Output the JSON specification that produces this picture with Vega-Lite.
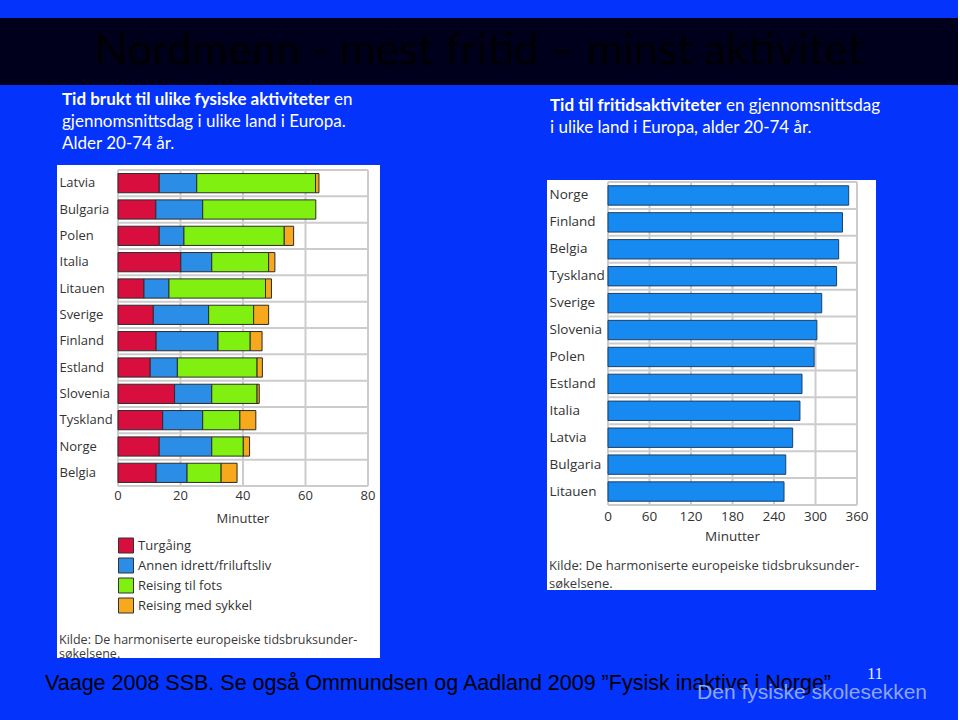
{
  "$schema": "https://vega.github.io/schema/vega-lite/v6.json",
  "background": "#0433fb",
  "padding": {"top": 18, "left": 0, "right": 0, "bottom": 0},
  "spacing": 0,
  "config": {
    "view": {"stroke": null},
    "font": "Open Sans",
    "axis": {"labelFont": "Open Sans", "titleFont": "Open Sans", "labelColor": "#333333", "titleColor": "#333333", "titleFontWeight": "normal"},
    "legend": {"labelFont": "Open Sans"}
  },
  "vconcat": [
    {
      "width": 958,
      "height": 67,
      "view": {"fill": "#00001c", "stroke": null},
      "data": {"values": [{"t": "Nordmenn - mest fritid – minst aktivitet"}]},
      "mark": {"type": "text", "font": "Lato", "fontSize": 44, "color": "#000004"},
      "encoding": {"text": {"field": "t"}}
    },
    {
      "spacing": 0,
      "hconcat": [
        {"width": 57, "height": 10, "data": {"values": []}, "mark": "point", "encoding": {}},
        {
          "spacing": 167,
          "hconcat": [
            {
              "spacing": 0,
              "vconcat": [
                {
                  "width": 323,
                  "height": 80,
                  "layer": [
                    {
                      "data": {"values": [{"t": "Tid brukt til ulike fysiske aktiviteter"}]},
                      "mark": {"type": "text", "font": "Lato", "fontSize": 17, "fontWeight": "bold", "color": "white", "align": "left", "dx": -156.5, "dy": -25},
                      "encoding": {"text": {"field": "t"}}
                    },
                    {
                      "data": {"values": [{"t": "en"}]},
                      "mark": {"type": "text", "font": "Lato", "fontSize": 17, "color": "white", "align": "left", "dx": 115.5, "dy": -25},
                      "encoding": {"text": {"field": "t"}}
                    },
                    {
                      "data": {"values": [{"t": "gjennomsnittsdag i ulike land i Europa."}]},
                      "mark": {"type": "text", "font": "Lato", "fontSize": 17, "color": "white", "align": "left", "dx": -156.5, "dy": -3},
                      "encoding": {"text": {"field": "t"}}
                    },
                    {
                      "data": {"values": [{"t": "Alder 20-74 år."}]},
                      "mark": {"type": "text", "font": "Lato", "fontSize": 17, "color": "white", "align": "left", "dx": -156.5, "dy": 19},
                      "encoding": {"text": {"field": "t"}}
                    }
                  ]
                },
                {
                  "width": 323,
                  "height": 493,
                  "view": {"fill": "white", "stroke": null},
                  "title": {
                    "text": ["Kilde: De harmoniserte europeiske tidsbruksunder-", "søkelsene."],
                    "orient": "bottom", "anchor": "start", "frame": "group", "offset": -24, "dx": 2,
                    "font": "Open Sans", "fontSize": 12.5, "fontWeight": "normal", "color": "#3a3a3a", "lineHeight": 14
                  },
                  "resolve": {"scale": {"y": "independent"}},
                  "layer": [
                    {
                      "data": {"values": [{"g": 0}, {"g": 20}, {"g": 40}, {"g": 60}, {"g": 80}]},
                      "mark": {"type": "rule", "color": "#cccccc", "strokeWidth": 2},
                      "encoding": {
                        "x": {"field": "g", "type": "quantitative", "scale": {"domain": [0, 80], "range": [61, 311], "nice": false}, "axis": null},
                        "y": {"datum": 0, "type": "quantitative", "scale": {"domain": [0, 12], "range": [5, 321]}, "axis": null},
                        "y2": {"datum": 12}
                      }
                    },
                    {
                      "data": {"values": [{"r": 0}, {"r": 1}, {"r": 2}, {"r": 3}, {"r": 4}, {"r": 5}, {"r": 6}, {"r": 7}, {"r": 8}, {"r": 9}, {"r": 10}, {"r": 11}, {"r": 12}]},
                      "mark": {"type": "rule", "color": "#cccccc", "strokeWidth": 2},
                      "encoding": {
                        "y": {"field": "r", "type": "quantitative", "scale": {"domain": [0, 12], "range": [5, 321]}, "axis": null},
                        "x": {"datum": 0, "type": "quantitative", "axis": null},
                        "x2": {"datum": 80}
                      }
                    },
                    {
                      "data": {"values": [{"g": 0}, {"g": 20}, {"g": 40}, {"g": 60}, {"g": 80}]},
                      "mark": {"type": "text", "font": "Open Sans", "fontSize": 13, "color": "#333333", "baseline": "middle", "dy": 10},
                      "encoding": {
                        "x": {"field": "g", "type": "quantitative", "axis": null},
                        "y": {"datum": 12, "type": "quantitative", "scale": {"domain": [0, 12], "range": [5, 321]}, "axis": null},
                        "text": {"field": "g", "type": "quantitative"}
                      }
                    },
                    {
                      "data": {"values": [{"t": "Minutter"}]},
                      "mark": {"type": "text", "font": "Open Sans", "fontSize": 13, "color": "#333333", "baseline": "middle", "dy": 33},
                      "encoding": {
                        "x": {"datum": 40, "type": "quantitative", "axis": null},
                        "y": {"datum": 12, "type": "quantitative", "scale": {"domain": [0, 12], "range": [5, 321]}, "axis": null},
                        "text": {"field": "t"}
                      }
                    },
                    {
                      "data": {"values": [
                        {"land": "Latvia", "aktivitet": "Turgåing", "k": 1, "minutter": 13.2},
                        {"land": "Latvia", "aktivitet": "Annen idrett/friluftsliv", "k": 2, "minutter": 12.0},
                        {"land": "Latvia", "aktivitet": "Reising til fots", "k": 3, "minutter": 38.0},
                        {"land": "Latvia", "aktivitet": "Reising med sykkel", "k": 4, "minutter": 1.1},
                        {"land": "Bulgaria", "aktivitet": "Turgåing", "k": 1, "minutter": 12.1},
                        {"land": "Bulgaria", "aktivitet": "Annen idrett/friluftsliv", "k": 2, "minutter": 15.0},
                        {"land": "Bulgaria", "aktivitet": "Reising til fots", "k": 3, "minutter": 36.2},
                        {"land": "Polen", "aktivitet": "Turgåing", "k": 1, "minutter": 13.2},
                        {"land": "Polen", "aktivitet": "Annen idrett/friluftsliv", "k": 2, "minutter": 7.9},
                        {"land": "Polen", "aktivitet": "Reising til fots", "k": 3, "minutter": 32.1},
                        {"land": "Polen", "aktivitet": "Reising med sykkel", "k": 4, "minutter": 3.0},
                        {"land": "Italia", "aktivitet": "Turgåing", "k": 1, "minutter": 20.1},
                        {"land": "Italia", "aktivitet": "Annen idrett/friluftsliv", "k": 2, "minutter": 9.9},
                        {"land": "Italia", "aktivitet": "Reising til fots", "k": 3, "minutter": 18.2},
                        {"land": "Italia", "aktivitet": "Reising med sykkel", "k": 4, "minutter": 2.0},
                        {"land": "Litauen", "aktivitet": "Turgåing", "k": 1, "minutter": 8.3},
                        {"land": "Litauen", "aktivitet": "Annen idrett/friluftsliv", "k": 2, "minutter": 8.0},
                        {"land": "Litauen", "aktivitet": "Reising til fots", "k": 3, "minutter": 30.9},
                        {"land": "Litauen", "aktivitet": "Reising med sykkel", "k": 4, "minutter": 1.9},
                        {"land": "Sverige", "aktivitet": "Turgåing", "k": 1, "minutter": 11.3},
                        {"land": "Sverige", "aktivitet": "Annen idrett/friluftsliv", "k": 2, "minutter": 17.7},
                        {"land": "Sverige", "aktivitet": "Reising til fots", "k": 3, "minutter": 14.4},
                        {"land": "Sverige", "aktivitet": "Reising med sykkel", "k": 4, "minutter": 4.8},
                        {"land": "Finland", "aktivitet": "Turgåing", "k": 1, "minutter": 12.2},
                        {"land": "Finland", "aktivitet": "Annen idrett/friluftsliv", "k": 2, "minutter": 19.8},
                        {"land": "Finland", "aktivitet": "Reising til fots", "k": 3, "minutter": 10.3},
                        {"land": "Finland", "aktivitet": "Reising med sykkel", "k": 4, "minutter": 3.8},
                        {"land": "Estland", "aktivitet": "Turgåing", "k": 1, "minutter": 10.3},
                        {"land": "Estland", "aktivitet": "Annen idrett/friluftsliv", "k": 2, "minutter": 8.7},
                        {"land": "Estland", "aktivitet": "Reising til fots", "k": 3, "minutter": 25.5},
                        {"land": "Estland", "aktivitet": "Reising med sykkel", "k": 4, "minutter": 1.7},
                        {"land": "Slovenia", "aktivitet": "Turgåing", "k": 1, "minutter": 18.1},
                        {"land": "Slovenia", "aktivitet": "Annen idrett/friluftsliv", "k": 2, "minutter": 11.9},
                        {"land": "Slovenia", "aktivitet": "Reising til fots", "k": 3, "minutter": 14.5},
                        {"land": "Slovenia", "aktivitet": "Reising med sykkel", "k": 4, "minutter": 0.7},
                        {"land": "Tyskland", "aktivitet": "Turgåing", "k": 1, "minutter": 14.3},
                        {"land": "Tyskland", "aktivitet": "Annen idrett/friluftsliv", "k": 2, "minutter": 12.8},
                        {"land": "Tyskland", "aktivitet": "Reising til fots", "k": 3, "minutter": 11.9},
                        {"land": "Tyskland", "aktivitet": "Reising med sykkel", "k": 4, "minutter": 5.1},
                        {"land": "Norge", "aktivitet": "Turgåing", "k": 1, "minutter": 13.2},
                        {"land": "Norge", "aktivitet": "Annen idrett/friluftsliv", "k": 2, "minutter": 16.8},
                        {"land": "Norge", "aktivitet": "Reising til fots", "k": 3, "minutter": 10.1},
                        {"land": "Norge", "aktivitet": "Reising med sykkel", "k": 4, "minutter": 2.0},
                        {"land": "Belgia", "aktivitet": "Turgåing", "k": 1, "minutter": 12.2},
                        {"land": "Belgia", "aktivitet": "Annen idrett/friluftsliv", "k": 2, "minutter": 9.9},
                        {"land": "Belgia", "aktivitet": "Reising til fots", "k": 3, "minutter": 10.9},
                        {"land": "Belgia", "aktivitet": "Reising med sykkel", "k": 4, "minutter": 5.1}
                      ]},
                      "mark": {"type": "bar", "stroke": "#2b2b2b", "strokeWidth": 1},
                      "encoding": {
                        "y": {
                          "field": "land", "type": "nominal",
                          "sort": ["Latvia", "Bulgaria", "Polen", "Italia", "Litauen", "Sverige", "Finland", "Estland", "Slovenia", "Tyskland", "Norge", "Belgia"],
                          "scale": {"range": [5, 321], "paddingInner": 0.27, "paddingOuter": 0.135},
                          "axis": {"title": null, "orient": "left", "labelAlign": "left", "labelPadding": -2, "ticks": false, "domain": false, "grid": false, "labelFontSize": 13, "labelColor": "#333333"}
                        },
                        "x": {
                          "field": "minutter", "type": "quantitative", "stack": "zero",
                          "scale": {"domain": [0, 80], "range": [61, 311], "nice": false},
                          "axis": null
                        },
                        "color": {
                          "field": "aktivitet", "type": "nominal",
                          "scale": {"domain": ["Turgåing", "Annen idrett/friluftsliv", "Reising til fots", "Reising med sykkel"], "range": ["#d80e3e", "#2b8de6", "#80f010", "#f7a81c"]},
                          "legend": {"orient": "none", "legendX": 118, "legendY": 519.5, "title": null, "symbolType": "square", "symbolSize": 225, "symbolStrokeColor": "#333333", "symbolStrokeWidth": 1, "symbolOpacity": 1, "labelFontSize": 13, "labelColor": "#333333", "labelOffset": 4, "rowPadding": 0, "padding": 0}
                        },
                        "order": {"field": "k", "type": "quantitative"}
                      }
                    }
                  ]
                }
              ]
            },
            {
              "spacing": 0,
              "vconcat": [
                {
                  "width": 329,
                  "height": 95,
                  "layer": [
                    {
                      "data": {"values": [{"t": "Tid til fritidsaktiviteter"}]},
                      "mark": {"type": "text", "font": "Lato", "fontSize": 17, "fontWeight": "bold", "color": "white", "align": "left", "dx": -161.5, "dy": -26.5},
                      "encoding": {"text": {"field": "t"}}
                    },
                    {
                      "data": {"values": [{"t": "en gjennomsnittsdag"}]},
                      "mark": {"type": "text", "font": "Lato", "fontSize": 17, "color": "white", "align": "left", "dx": 14.5, "dy": -26.5},
                      "encoding": {"text": {"field": "t"}}
                    },
                    {
                      "data": {"values": [{"t": "i ulike land i Europa, alder 20-74 år."}]},
                      "mark": {"type": "text", "font": "Lato", "fontSize": 17, "color": "white", "align": "left", "dx": -161.5, "dy": -4.5},
                      "encoding": {"text": {"field": "t"}}
                    }
                  ]
                },
                {
                  "width": 329,
                  "height": 410,
                  "view": {"fill": "white", "stroke": null},
                  "title": {
                    "text": ["Kilde: De harmoniserte europeiske tidsbruksunder-", "søkelsene."],
                    "orient": "bottom", "anchor": "start", "frame": "group", "offset": -30, "dx": 2,
                    "font": "Open Sans", "fontSize": 13, "fontWeight": "normal", "color": "#3a3a3a", "lineHeight": 18
                  },
                  "resolve": {"scale": {"y": "independent"}},
                  "layer": [
                    {
                      "data": {"values": [{"g": 0}, {"g": 60}, {"g": 120}, {"g": 180}, {"g": 240}, {"g": 300}, {"g": 360}]},
                      "mark": {"type": "rule", "color": "#cccccc", "strokeWidth": 2},
                      "encoding": {
                        "x": {"field": "g", "type": "quantitative", "scale": {"domain": [0, 360], "range": [61, 310], "nice": false}, "axis": null},
                        "y": {"datum": 0, "type": "quantitative", "scale": {"domain": [0, 12], "range": [2, 325]}, "axis": null},
                        "y2": {"datum": 12}
                      }
                    },
                    {
                      "data": {"values": [{"r": 0}, {"r": 1}, {"r": 2}, {"r": 3}, {"r": 4}, {"r": 5}, {"r": 6}, {"r": 7}, {"r": 8}, {"r": 9}, {"r": 10}, {"r": 11}, {"r": 12}]},
                      "mark": {"type": "rule", "color": "#cccccc", "strokeWidth": 2},
                      "encoding": {
                        "y": {"field": "r", "type": "quantitative", "scale": {"domain": [0, 12], "range": [2, 325]}, "axis": null},
                        "x": {"datum": 0, "type": "quantitative", "axis": null},
                        "x2": {"datum": 360}
                      }
                    },
                    {
                      "data": {"values": [{"g": 0}, {"g": 60}, {"g": 120}, {"g": 180}, {"g": 240}, {"g": 300}, {"g": 360}]},
                      "mark": {"type": "text", "font": "Open Sans", "fontSize": 13.5, "color": "#333333", "baseline": "middle", "dy": 12},
                      "encoding": {
                        "x": {"field": "g", "type": "quantitative", "axis": null},
                        "y": {"datum": 12, "type": "quantitative", "scale": {"domain": [0, 12], "range": [2, 325]}, "axis": null},
                        "text": {"field": "g", "type": "quantitative"}
                      }
                    },
                    {
                      "data": {"values": [{"t": "Minutter"}]},
                      "mark": {"type": "text", "font": "Open Sans", "fontSize": 13.5, "color": "#333333", "baseline": "middle", "dy": 32},
                      "encoding": {
                        "x": {"datum": 180, "type": "quantitative", "axis": null},
                        "y": {"datum": 12, "type": "quantitative", "scale": {"domain": [0, 12], "range": [2, 325]}, "axis": null},
                        "text": {"field": "t"}
                      }
                    },
                    {
                      "data": {"values": [
                        {"land": "Norge", "minutter": 348},
                        {"land": "Finland", "minutter": 339},
                        {"land": "Belgia", "minutter": 333.5},
                        {"land": "Tyskland", "minutter": 330.5},
                        {"land": "Sverige", "minutter": 309},
                        {"land": "Slovenia", "minutter": 302},
                        {"land": "Polen", "minutter": 298},
                        {"land": "Estland", "minutter": 280.5},
                        {"land": "Italia", "minutter": 277.5},
                        {"land": "Latvia", "minutter": 267},
                        {"land": "Bulgaria", "minutter": 257},
                        {"land": "Litauen", "minutter": 254.5}
                      ]},
                      "mark": {"type": "bar", "color": "#168af0", "stroke": "#1d3f66", "strokeWidth": 1},
                      "encoding": {
                        "y": {
                          "field": "land", "type": "nominal",
                          "sort": ["Norge", "Finland", "Belgia", "Tyskland", "Sverige", "Slovenia", "Polen", "Estland", "Italia", "Latvia", "Bulgaria", "Litauen"],
                          "scale": {"range": [2, 325], "paddingInner": 0.28, "paddingOuter": 0.14},
                          "axis": {"title": null, "orient": "left", "labelAlign": "left", "labelPadding": -2, "ticks": false, "domain": false, "grid": false, "labelFontSize": 13.5, "labelColor": "#333333"}
                        },
                        "x": {
                          "field": "minutter", "type": "quantitative",
                          "scale": {"domain": [0, 360], "range": [61, 310], "nice": false},
                          "axis": null
                        }
                      }
                    }
                  ]
                }
              ]
            }
          ]
        }
      ]
    },
    {
      "width": 958,
      "height": 60,
      "layer": [
        {
          "data": {"values": [{"t": "Vaage 2008 SSB. Se også Ommundsen og Aadland 2009 ”Fysisk inaktive i Norge”"}]},
          "mark": {"type": "text", "font": "Liberation Sans", "fontSize": 21.5, "color": "#000000", "align": "left", "dx": -434, "dy": -7},
          "encoding": {"text": {"field": "t"}}
        },
        {
          "data": {"values": [{"t": "Den fysiske skolesekken"}]},
          "mark": {"type": "text", "font": "Liberation Sans", "fontSize": 21, "color": "#8ea6f2", "align": "right", "dx": 448, "dy": 2},
          "encoding": {"text": {"field": "t"}}
        },
        {
          "data": {"values": [{"t": "11"}]},
          "mark": {"type": "text", "font": "Liberation Serif", "fontSize": 16, "color": "#e8ecff", "align": "center", "dx": 396, "dy": -17},
          "encoding": {"text": {"field": "t"}}
        }
      ]
    }
  ]
}
